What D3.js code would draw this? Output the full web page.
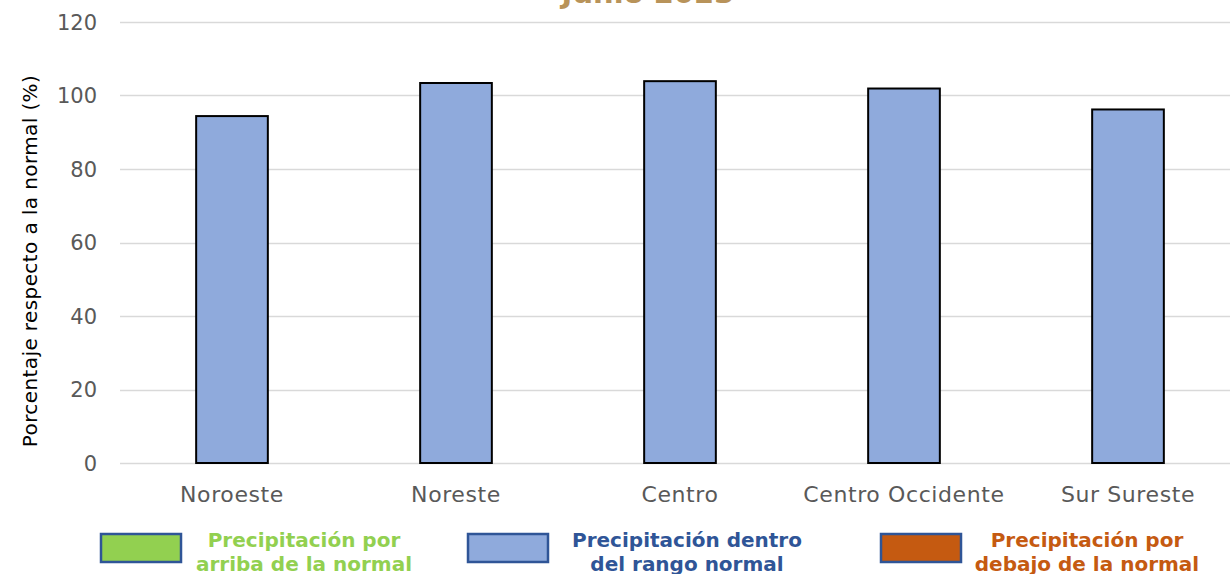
<!DOCTYPE html>
<html>
<head>
<meta charset="utf-8">
<script src="https://cdn.jsdelivr.net/npm/d3@7"></script>
<style>
  body { margin: 0; background: #fff; }
  svg { font-family: "DejaVu Sans", sans-serif; }
</style>
</head>
<body>
<svg id="chart"></svg>
<script>
var regions = ["Noroeste", "Noreste", "Centro", "Centro Occidente", "Sur Sureste"];
var percent = [94.4, 103.4, 103.9, 101.9, 96.2];
var yTicks = [0, 20, 40, 60, 80, 100, 120];
var legendLabels = [
  ["Precipitación por", "arriba de la normal"],
  ["Precipitación dentro", "del rango normal"],
  ["Precipitación por", "debajo de la normal"]
];
var legendColors = ["#92d050", "#8faadc", "#c55a11"];
var legendText = ["#92d050", "#2f5597", "#c55a11"];

var w = 1230;
var h = 574;
var margin = { top: 22, bottom: 111, left: 120, right: -10 };
var font = "'DejaVu Sans', sans-serif";

var svg = d3.select("#chart")
  .attr("width", w)
  .attr("height", h);

var xScale = d3.scaleBand()
  .domain(regions)
  .range([margin.left, w - margin.right])
  .paddingInner(0.68)
  .paddingOuter(0.34);

var yScale = d3.scaleLinear()
  .domain([0, 120])
  .range([h - margin.bottom, margin.top]);

// title, mostly cut off by the top edge
svg.append("text")
  .attr("x", 648)
  .attr("y", 3)
  .attr("text-anchor", "middle")
  .attr("fill", "#b8935a")
  .style("font-size", "29px")
  .style("font-weight", "bold")
  .text("Junio 2023");

// gridlines
svg.append("g")
  .selectAll("line")
  .data(yTicks)
  .enter()
  .append("line")
  .attr("x1", margin.left)
  .attr("x2", w)
  .attr("y1", function(d) { return Math.round(yScale(d)) + 0.5; })
  .attr("y2", function(d) { return Math.round(yScale(d)) + 0.5; })
  .attr("stroke", "#d9d9d9")
  .attr("stroke-width", 1.5);

var yAxis = d3.axisLeft(yScale).tickValues(yTicks).tickSize(0).tickPadding(23);
svg.append("g")
  .attr("transform", "translate(" + margin.left + ",0)")
  .call(yAxis)
  .attr("font-family", font)
  .call(function(g) { g.select(".domain").remove(); })
  .selectAll("text")
  .attr("fill", "#595959")
  .style("font-size", "21px")
  .attr("dy", "0.35em");

var xAxis = d3.axisBottom(xScale).tickSize(0).tickPadding(23);
svg.append("g")
  .attr("transform", "translate(0," + (h - margin.bottom) + ")")
  .call(xAxis)
  .attr("font-family", font)
  .call(function(g) { g.select(".domain").remove(); })
  .selectAll("text")
  .attr("fill", "#595959")
  .style("font-size", "22px")
  .style("letter-spacing", "0.6px");

svg.append("g")
  .selectAll("rect")
  .data(regions)
  .enter()
  .append("rect")
  .attr("x", function(d) { return xScale(d); })
  .attr("y", function(d, i) { return yScale(percent[i]); })
  .attr("width", xScale.bandwidth())
  .attr("height", function(d, i) { return yScale(0) - yScale(percent[i]); })
  .attr("fill", "#8faadc")
  .attr("stroke", "#000")
  .attr("stroke-width", 2);

svg.append("text")
  .attr("transform", "translate(37," + 261 + ") rotate(-90)")
  .attr("text-anchor", "middle")
  .attr("fill", "#000")
  .style("font-size", "20px")
  .style("letter-spacing", "0.4px")
  .text("Porcentaje respecto a la normal (%)");

// legend
var legendX = [100, 467, 880];
var legendTextX = [304, 687, 1087];
var legend = svg.append("g");
legendLabels.forEach(function(lines, i) {
  legend.append("rect")
    .attr("x", legendX[i] + 1)
    .attr("y", 534)
    .attr("width", 80)
    .attr("height", 28)
    .attr("fill", legendColors[i])
    .attr("stroke", "#2f5597")
    .attr("stroke-width", 2.5);
  lines.forEach(function(t, j) {
    legend.append("text")
      .attr("x", legendTextX[i])
      .attr("y", 547 + j * 24)
      .attr("text-anchor", "middle")
      .attr("fill", legendText[i])
      .style("font-size", "20px")
      .style("font-weight", "bold")
      .text(t);
  });
});
</script>
</body>
</html>
